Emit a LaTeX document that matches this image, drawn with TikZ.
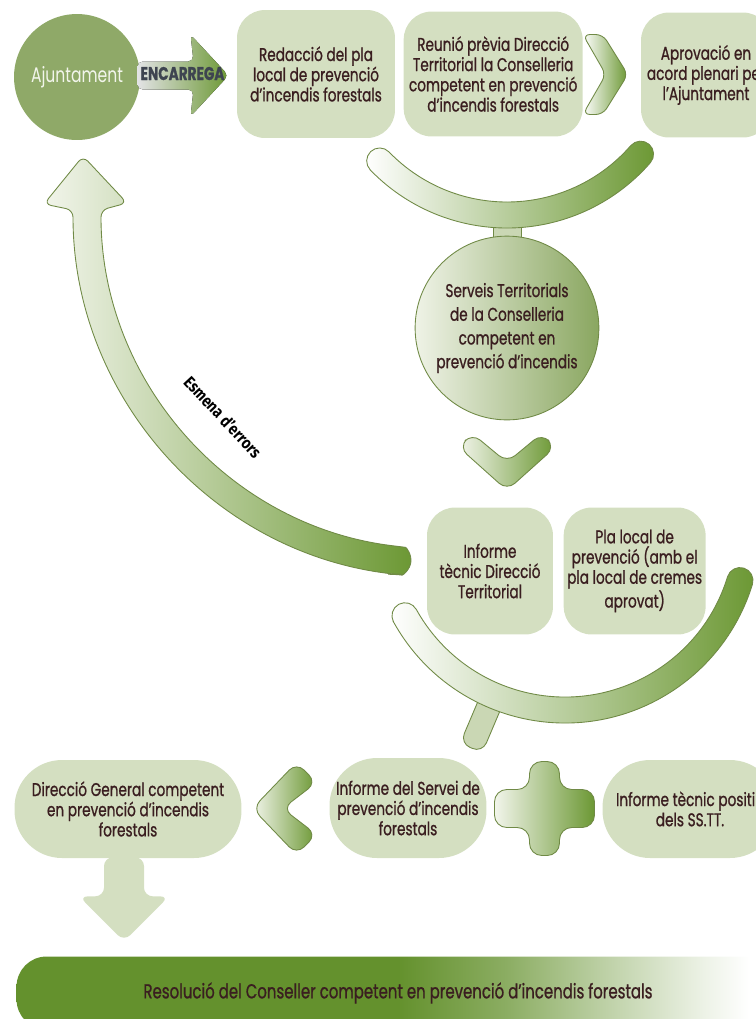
\documentclass[tikz,border=0pt]{standalone}
\usepackage{fontspec}
\setmainfont{Poppins}[FakeStretch=0.74, FakeBold=0.9]
\newfontfamily\primfont{Poppins}[FakeStretch=0.74]
\newfontfamily\etiqfont{Fira Sans}[FakeStretch=0.85]
\usepackage{xcolor}
\usepackage{tikz}
\usetikzlibrary{calc, positioning}

\definecolor{salvia}{RGB}{212,223,193}
\definecolor{oliva}{RGB}{143,169,104}
\definecolor{verd}{RGB}{108,152,52}
\definecolor{verdfosc}{RGB}{100,145,45}
\definecolor{clar}{RGB}{242,245,235}
\definecolor{vora}{RGB}{112,138,70}
\definecolor{textfosc}{RGB}{58,30,32}
\definecolor{gris}{RGB}{62,68,80}
\pgfdeclarehorizontalshading{barra}{100bp}{color(0bp)=(verdfosc); color(25bp)=(verdfosc); color(50bp)=(verdfosc); color(57bp)=(verdfosc!75!white); color(63bp)=(verdfosc!45!white); color(70bp)=(verdfosc!12!white); color(73bp)=(white); color(100bp)=(white)}

\tikzstyle{caixa} = [rectangle, rounded corners=0.56cm, fill=salvia, text=textfosc, align=center, inner sep=2pt, font=\fontsize{10.5}{11.5}\selectfont]
\tikzstyle{pastilla} = [caixa, rounded corners=0.95cm]
\tikzstyle{bola} = [circle, draw=vora, line width=0.5pt, left color=clar!90!salvia, right color=oliva!85!verd, text=textfosc, align=center, font=\fontsize{10.5}{13.5}\selectfont]
\tikzstyle{forma} = [draw=vora, line width=0.5pt, left color=clar, right color=verd]
\tikzstyle{tija} = [draw=vora, line width=0.5pt, fill=salvia!85!oliva]

\begin{document}
\begin{tikzpicture}[x=0.02cm, y=0.02cm]
	\useasboundingbox (0,0) rectangle (756,-1019);
	\clip (0,0) rectangle (756,-1019);

	% fila de dalt
	\node (ajuntament)[circle, fill=oliva, minimum size=2.52cm, text=clar, font=\primfont\fontsize{12}{12}\selectfont] at (77,-77) {Ajuntament};
	\node (redaccio)[caixa, minimum width=3.16cm, minimum height=2.56cm] at (316,-74) {Redacció del pla\\local de prevenció\\d’incendis forestals};
	\node (reunio)[caixa, minimum width=3.58cm, minimum height=2.5cm, right=0.16cm of redaccio] {Reunió prèvia Direcció\\Territorial la Conselleria\\competent en prevenció\\d’incendis forestals};
	\node (aprovacio)[caixa, minimum width=2.6cm, minimum height=2.5cm] at (706,-75) {Aprovació en\\acord plenari per\\l’Ajuntament};

	\coordinate (fletxa) at ($(ajuntament.east)!0.5!(redaccio.west)$);
	\begin{scope}[shift={(fletxa)}]
		\fill[left color=gris!15!white, right color=verd, rounded corners=3] (-51,14) -- (5,14) -- (2,41) -- (40,0) -- (2,-41) -- (5,-14) -- (-51,-14) -- cycle;
	\end{scope}
	\node (encarrega)[text=gris, font=\bfseries\fontsize{10.5}{11}\selectfont] at ($(fletxa)+(-6,2)$) {ENCARREGA};

	\coordinate (dreta) at ($(reunio.east)!0.5!(aprovacio.west)$);
	\begin{scope}[shift={(dreta)}]
		\draw[forma, left color=white, rounded corners=4] (-29,40) -- (-9,40) -- (16,0) -- (-9,-40) -- (-29,-40) -- (-6,0) -- cycle;
	\end{scope}

	% arc de dalt i Serveis Territorials
	\coordinate (arcdalt) at (507,-38);
	\draw[tija] (493,-215) rectangle (521,-250);
	\draw[forma, left color=white] ($(arcdalt)+(-136:190)$) arc[start angle=-136, end angle=-41, radius=190]
		arc[start angle=-41, end angle=139, radius=13]
		arc[start angle=-41, end angle=-136, radius=164]
		arc[start angle=44, end angle=224, radius=13] -- cycle;
	\node (serveis)[bola, minimum size=3.48cm] at (507,-328) {Serveis Territorials\\de la Conselleria\\competent en\\prevenció d’incendis};

	\coordinate (baixa) at ($(serveis.south)+(0,-40)$);
	\begin{scope}[shift={(baixa)}]
		\draw[forma, rounded corners=6] (-35,27) -- (0,-2) -- (35,27) -- (48,13) -- (0,-30) -- (-48,13) -- cycle;
	\end{scope}

	% esmena d'errors
	\coordinate (arcesmena) at (440,-210);
	\draw[forma, rounded corners=4] ($(arcesmena)+(-97:367)$) arc[start angle=-97, end angle=-180, radius=367]
		-- (44,-204) -- (83,-156) -- (127,-203) -- ($(arcesmena)+(180:339)$)
		arc[start angle=-180, end angle=-97, radius=339]
		arc[start angle=83, end angle=-97, radius=14] -- cycle;
	\node (esmena)[rotate=-47, font=\etiqfont\bfseries\fontsize{9.5}{10}\selectfont] at (223,-417) {Esmena d’errors};

	% informes
	\node (informe)[caixa, minimum width=2.52cm, minimum height=2.54cm] at (490,-571) {Informe\\tècnic Direcció\\Territorial};
	\node (plalocal)[caixa, minimum width=2.78cm, minimum height=2.54cm, right=0.2cm of informe] {Pla local de\\prevenció (amb el\\pla local de cremes\\aprovat)};

	\coordinate (arcbaix) at (565,-527);
	\begin{scope}[shift={(arcbaix)}, rotate=-113]
		\draw[tija, rounded corners=6] (178,-12) -- (240,-12) -- (240,12) -- (178,12) -- cycle;
	\end{scope}
	\draw[forma, left color=white] ($(arcbaix)+(-151:196)$) arc[start angle=-151, end angle=-17, radius=196]
		arc[start angle=-17, end angle=163, radius=13]
		arc[start angle=-17, end angle=-151, radius=170]
		arc[start angle=29, end angle=209, radius=13] -- cycle;

	% fila de baix
	\node (dirgeneral)[pastilla, minimum width=4.54cm, minimum height=1.96cm] at (128,-809) {Direcció General competent\\en prevenció d’incendis\\forestals};
	\node (servei)[pastilla, minimum width=3.14cm, minimum height=2cm] at (408,-808) {Informe del Servei de\\prevenció d’incendis\\forestals};
	\node (positiu)[pastilla, minimum width=3.5cm, minimum height=1.96cm] at (690,-809) {Informe tècnic positiu\\dels SS.TT.};

	\coordinate (esquerra) at ($(dirgeneral.east)!0.5!(servei.west)$);
	\begin{scope}[shift={(esquerra)}]
		\draw[forma, rounded corners=6] (-33,0) -- (11,46) -- (31,26) -- (-3,0) -- (31,-26) -- (11,-46) -- cycle;
	\end{scope}

	\coordinate (mes) at ($(servei.east)!0.5!(positiu.west)$);
	\begin{scope}[shift={(mes)}]
		\draw[forma, rounded corners=7] (-15,47) -- (15,47) -- (15,19) -- (50,19) -- (50,-19) -- (15,-19) -- (15,-47) -- (-15,-47) -- (-15,-19) -- (-50,-19) -- (-50,19) -- (-15,19) -- cycle;
	\end{scope}

	\coordinate (avall) at ($(dirgeneral.south)+(-4,1)$);
	\begin{scope}[shift={(avall)}]
		\fill[salvia, rounded corners=5] (-20,0) -- (-20,-39) -- (-45,-39) -- (0,-84) -- (45,-39) -- (20,-39) -- (20,0) -- cycle;
	\end{scope}

	\node (resolucio)[rectangle, rounded corners=0.6cm, shading=barra, minimum width=15.26cm, minimum height=1.46cm, text=textfosc, font=\fontsize{11.5}{12}\selectfont] at (398,-993) {Resolució del Conseller competent en prevenció d’incendis forestals};
\end{tikzpicture}
\end{document}
